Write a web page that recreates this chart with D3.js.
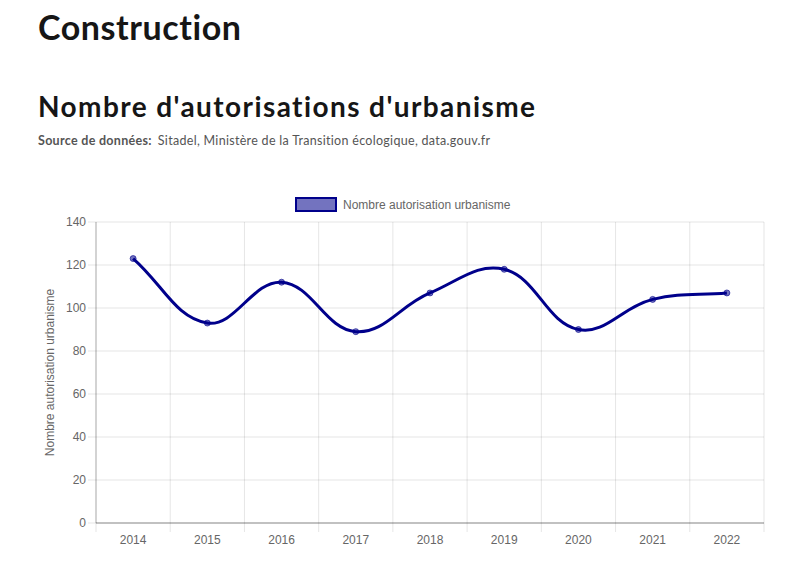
<!DOCTYPE html>
<html>
<head>
<meta charset="utf-8">
<script src="https://cdn.jsdelivr.net/npm/d3@7"></script>
<style>
  body { margin: 0; background: #fff; }
  svg { display: block; }
  text { font-variant-ligatures: none; font-feature-settings: "liga" 0, "clig" 0; }
</style>
</head>
<body>
<div id="chart"></div>
<script>
var years = ["2014", "2015", "2016", "2017", "2018", "2019", "2020", "2021", "2022"];
var autorisations = [123, 93, 112, 89, 107, 118, 90, 104, 107];
var yTicks = [0, 20, 40, 60, 80, 100, 120, 140];

var W = 807, H = 565;
var plot = { left: 96, right: 764, top: 222, bottom: 523 };
var dark = "#00008b";

var svg = d3.select("#chart").append("svg")
    .attr("width", W)
    .attr("height", H);

// titres
svg.append("text")
    .attr("x", 38).attr("y", 40)
    .attr("font-family", "Lato, 'Open Sans', sans-serif")
    .attr("font-weight", "bold")
    .attr("font-size", 34)
    .attr("fill", "#161616")
    .attr("textLength", 203)
    .attr("lengthAdjust", "spacing")
    .text("Construction");

svg.append("text")
    .attr("x", 38).attr("y", 117)
    .attr("font-family", "Lato, 'Open Sans', sans-serif")
    .attr("font-weight", "bold")
    .attr("font-size", 28)
    .attr("fill", "#161616")
    .attr("textLength", 497)
    .attr("lengthAdjust", "spacing")
    .text("Nombre d'autorisations d'urbanisme");

var src = svg.append("text")
    .attr("x", 38).attr("y", 145)
    .attr("font-family", "Lato, 'Open Sans', sans-serif")
    .attr("font-size", 12.5)
    .attr("fill", "#555")
    .attr("letter-spacing", 0.3);
src.append("tspan").attr("font-weight", "bold").text("Source de données:");
src.append("tspan").attr("dx", 6).text("Sitadel, Ministère de la Transition écologique, data.gouv.fr");

var x = d3.scaleBand()
    .domain(years)
    .range([plot.left, plot.right]);

var y = d3.scaleLinear()
    .domain([0, 140])
    .range([plot.bottom, plot.top]);

// grille horizontale
svg.append("g").selectAll("line")
    .data(yTicks)
    .enter()
    .append("line")
    .attr("x1", plot.left - 8)
    .attr("x2", plot.right)
    .attr("y1", function (d) { return y(d); })
    .attr("y2", function (d) { return y(d); })
    .attr("stroke", "rgba(0,0,0,0.1)");

// grille verticale (limites de bandes)
var bounds = years.map(function (d) { return x(d); });
bounds.push(plot.right);
svg.append("g").selectAll("line")
    .data(bounds)
    .enter()
    .append("line")
    .attr("x1", function (d) { return d; })
    .attr("x2", function (d) { return d; })
    .attr("y1", plot.top)
    .attr("y2", plot.bottom + 9)
    .attr("stroke", "rgba(0,0,0,0.1)");

// bordures des axes
svg.append("line")
    .attr("x1", plot.left).attr("x2", plot.left)
    .attr("y1", plot.top).attr("y2", plot.bottom)
    .attr("stroke", "rgba(0,0,0,0.25)");
svg.append("line")
    .attr("x1", plot.left).attr("x2", plot.right)
    .attr("y1", plot.bottom).attr("y2", plot.bottom)
    .attr("stroke", "rgba(0,0,0,0.4)");

// étiquettes
svg.append("g").selectAll("text")
    .data(yTicks)
    .enter()
    .append("text")
    .attr("x", plot.left - 10)
    .attr("y", function (d) { return y(d); })
    .attr("dy", "0.35em")
    .attr("text-anchor", "end")
    .attr("font-family", "Arial, 'Liberation Sans', sans-serif")
    .attr("font-size", 12)
    .attr("fill", "#666")
    .text(function (d) { return d; });

svg.append("g").selectAll("text")
    .data(years)
    .enter()
    .append("text")
    .attr("x", function (d) { return x(d) + x.bandwidth() / 2; })
    .attr("y", plot.bottom + 21)
    .attr("text-anchor", "middle")
    .attr("font-family", "Arial, 'Liberation Sans', sans-serif")
    .attr("font-size", 12)
    .attr("fill", "#666")
    .text(function (d) { return d; });

svg.append("text")
    .attr("transform", "translate(54," + ((plot.top + plot.bottom) / 2) + ") rotate(-90)")
    .attr("text-anchor", "middle")
    .attr("font-family", "Arial, 'Liberation Sans', sans-serif")
    .attr("font-size", 12)
    .attr("fill", "#666")
    .text("Nombre autorisation urbanisme");

// légende
svg.append("rect")
    .attr("x", 296).attr("y", 198)
    .attr("width", 40).attr("height", 13)
    .attr("fill", "rgba(0,0,139,0.55)")
    .attr("stroke", dark)
    .attr("stroke-width", 2);
svg.append("text")
    .attr("x", 343).attr("y", 205)
    .attr("dy", "0.35em")
    .attr("font-family", "Arial, 'Liberation Sans', sans-serif")
    .attr("font-size", 12)
    .attr("fill", "#666")
    .text("Nombre autorisation urbanisme");

// points en pixels
var pts = autorisations.map(function (v, i) {
    return { x: x(years[i]) + x.bandwidth() / 2, y: y(v) };
});

// spline façon chart.js (tension 0.4)
function splinePath(p, t) {
    var ctrl = p.map(function (cur, i) {
        var prev = p[i - 1] || cur, next = p[i + 1] || cur;
        var d01 = Math.hypot(cur.x - prev.x, cur.y - prev.y);
        var d12 = Math.hypot(next.x - cur.x, next.y - cur.y);
        var s01 = d01 / (d01 + d12) || 0, s12 = d12 / (d01 + d12) || 0;
        var fa = t * s01, fb = t * s12;
        return {
            px: cur.x - fa * (next.x - prev.x), py: cur.y - fa * (next.y - prev.y),
            nx: cur.x + fb * (next.x - prev.x), ny: cur.y + fb * (next.y - prev.y)
        };
    });
    var path = d3.path();
    path.moveTo(p[0].x, p[0].y);
    for (var i = 1; i < p.length; i++) {
        path.bezierCurveTo(ctrl[i - 1].nx, ctrl[i - 1].ny, ctrl[i].px, ctrl[i].py, p[i].x, p[i].y);
    }
    return path.toString();
}

svg.append("path")
    .attr("d", splinePath(pts, 0.4))
    .attr("fill", "none")
    .attr("stroke", dark)
    .attr("stroke-width", 3);

svg.append("g").selectAll("circle")
    .data(pts)
    .enter()
    .append("circle")
    .attr("cx", function (d) { return d.x; })
    .attr("cy", function (d) { return d.y; })
    .attr("r", 3)
    .attr("fill", "rgba(0,0,139,0.55)")
    .attr("stroke", "rgba(0,0,139,0.6)")
    .attr("stroke-width", 1);
</script>
</body>
</html>
